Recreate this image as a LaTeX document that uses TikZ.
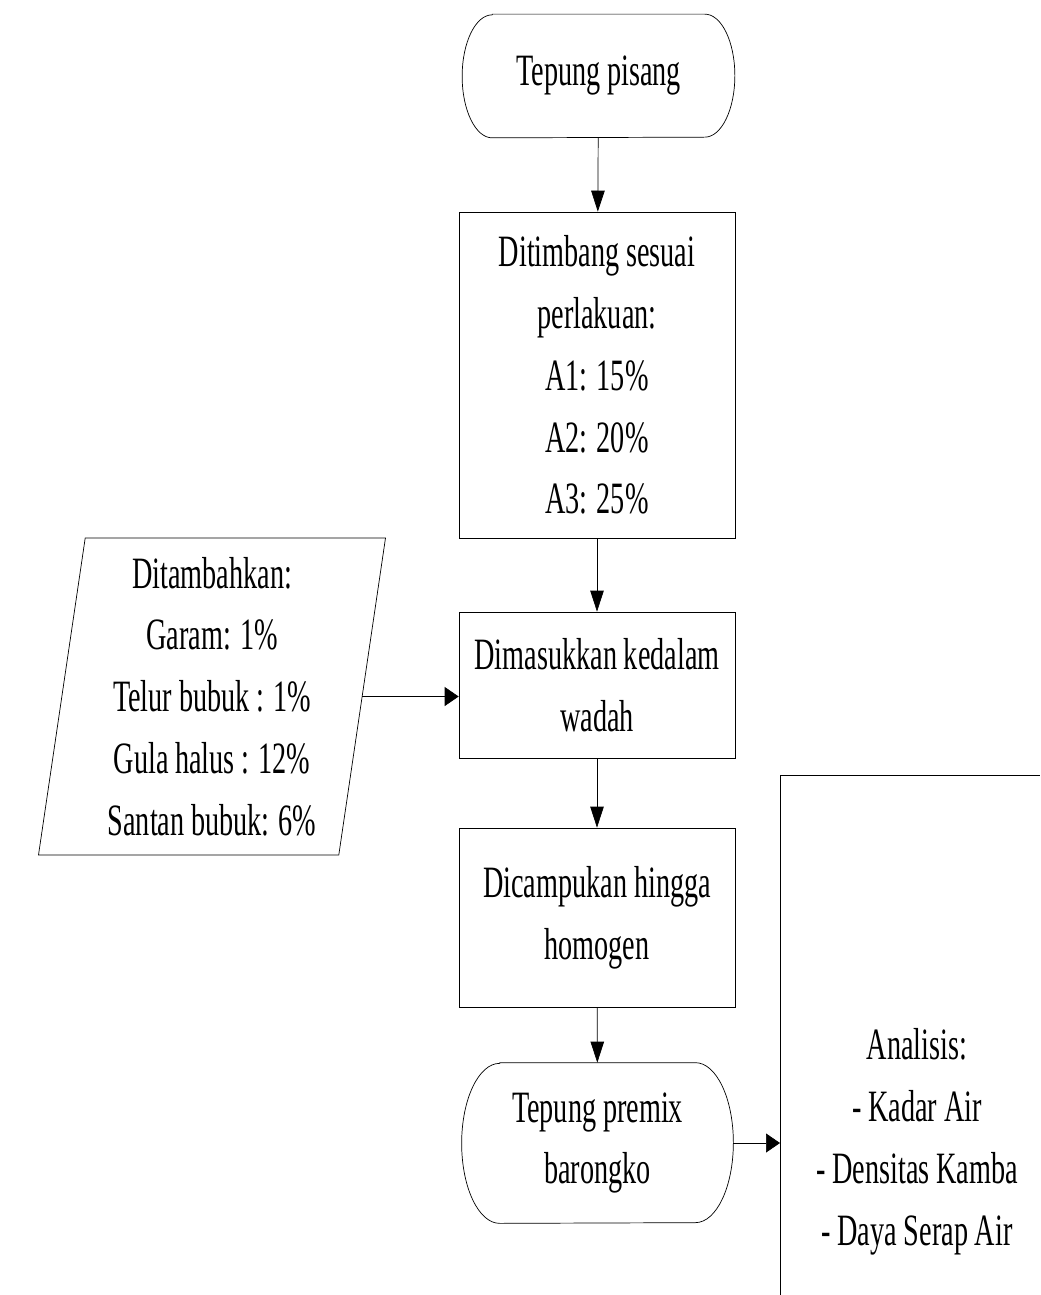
\documentclass[tikz,border=0pt]{standalone}
\usepackage{fontspec}
\setmainfont[FakeStretch=0.63, WordSpace=0.95]{Liberation Serif}
\usetikzlibrary{shapes.geometric,arrows.meta}
\tikzset{
	box/.style={draw, align=center, minimum width=5.52cm, inner sep=0pt},
	term/.style={align=center, minimum width=5.44cm, inner sep=0pt},
	arrv/.style={-{Triangle[length=0.42cm,width=0.27cm]}},
	arrh/.style={-{Triangle[length=0.28cm,width=0.38cm]}},
}
\def\stadium(#1)(#2:#3){\draw ([xshift=#2cm]#1.north west) -- ([xshift=-#2cm]#1.north east) arc (90:-90:#2 and #3) -- ([xshift=#2cm]#1.south west) arc (270:90:#2 and #3) -- cycle;}

\begin{document}
\begin{tikzpicture}[font=\fontsize{25.5}{35.2}\selectfont]
		%%%%% START %%%%%
		\useasboundingbox (0, 0) rectangle (20.8, -25.9);
		
		\node[term, minimum height=2.46cm] (pisang) at (11.97, -1.52) {Tepung pisang};
		\stadium(pisang)(0.6:1.23);
		
		\node[box, minimum height=6.52cm] (timbang) at (11.94, -7.50) {Ditimbang sesuai\\perlakuan:\\A1: 15\%\\A2: 20\%\\A3: 25\%};
		\node[box, minimum height=2.92cm] (wadah) at (11.94, -13.70) {Dimasukkan kedalam\\wadah};
		\node[box, minimum height=3.58cm] (campur) at (11.94, -18.35) {Dicampukan hingga\\homogen};
		
		\node[term, minimum width=5.42cm, minimum height=3.2cm] (premix) at (11.95, -22.86) {Tepung premix\\barongko};
		\stadium(premix)(0.76:1.6);
		
		\node[draw, trapezium, trapezium left angle=80.5, trapezium right angle=99.5, trapezium stretches body, minimum width=6.94cm, minimum height=6.34cm, align=center, inner sep=0pt] (tambah) at (4.24, -13.93) {Ditambahkan:\\Garam: 1\%\\Telur bubuk : 1\%\\Gula halus : 12\%\\Santan bubuk: 6\%};
		
		\node[align=center] (analisis) at (18.34, -22.84) {Analisis:\\- Kadar Air\\- Densitas Kamba\\- Daya Serap Air};
		\draw (15.6, -25.9) -- (15.6, -15.5) -- (20.8, -15.5);
		
		\draw[arrv] (pisang) -- (timbang);
		\draw[arrv] (timbang) -- (wadah);
		\draw[arrv] (wadah) -- (campur);
		\draw[arrv] (campur) -- (premix);
		\draw[arrh] (tambah.east) -- (tambah.east -| wadah.west);
		\draw[arrh] (premix.east) -- (15.6, -22.86);
		%%%%% END %%%%%
	\end{tikzpicture}
\end{document}
